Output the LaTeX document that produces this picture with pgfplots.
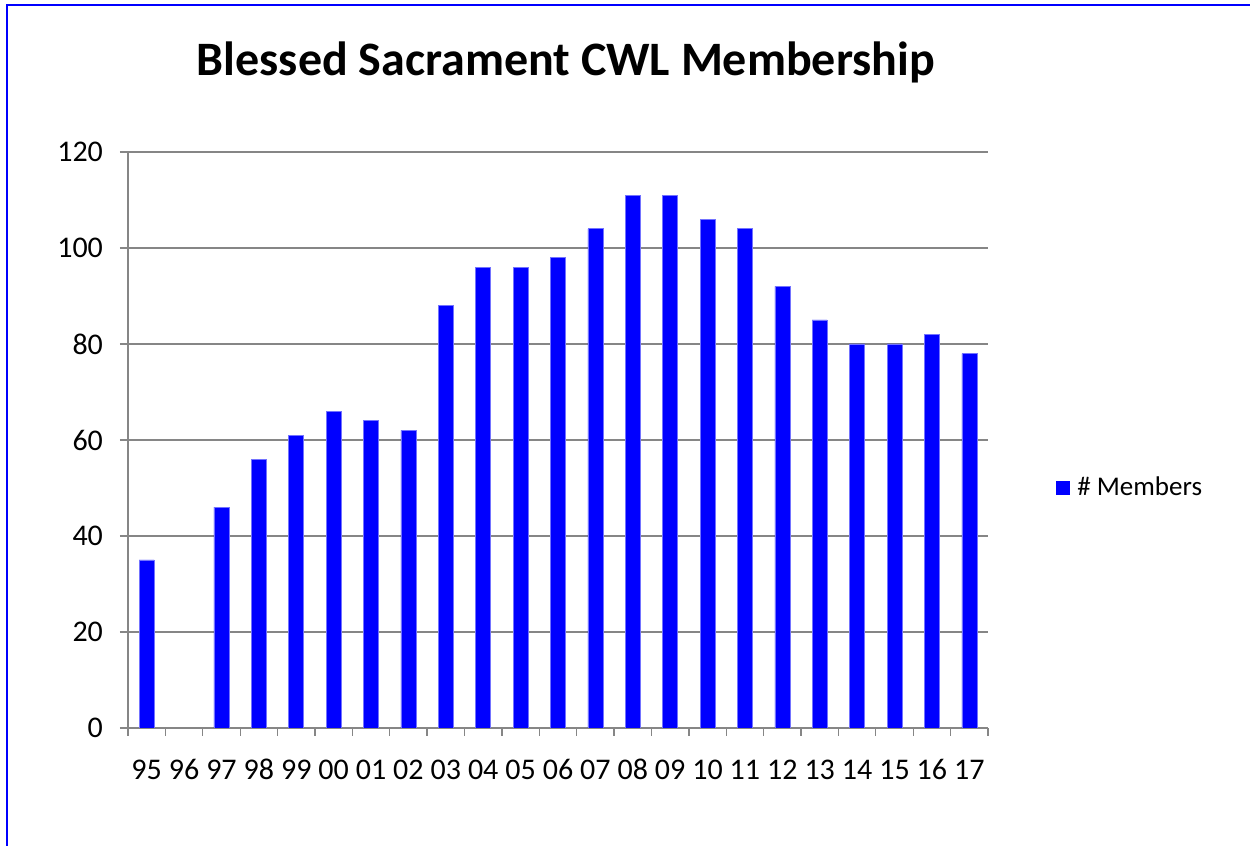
\documentclass[border=0pt]{standalone}
\usepackage{pgfplots}
\pgfplotsset{compat=1.18}
\usepackage{fontspec}
\setmainfont{Carlito}
\definecolor{gridgray}{RGB}{134,134,134}
\definecolor{barblue}{RGB}{0,0,255}
\begin{document}
\begin{tikzpicture}
\path[use as bounding box] (0,0) rectangle (625pt,423pt);
\draw[barblue, line width=1pt] (3.25pt,0pt) -- (3.25pt,420.25pt) -- (625pt,420.25pt);
\node[font=\bfseries\fontsize{24}{28}\selectfont] at (283pt,392pt) {Blessed Sacrament CWL Membership};
\begin{axis}[
 at={(64pt,59pt)}, anchor=south west,
 scale only axis, width=430pt, height=288pt,
 xmin=-0.5, xmax=22.5, ymin=0, ymax=120,
 ytick={0,20,...,120},
 xtick={0,...,22},
 xticklabels={95,96,97,98,99,00,01,02,03,04,05,06,07,08,09,10,11,12,13,14,15,16,17},
 minor xtick={-0.5,0.5,...,22.5},
 axis x line*=bottom, axis y line*=left,
 axis line style={-, gridgray, line width=0.65pt},
 ymajorgrids, grid style={gridgray, line width=0.65pt},
 tick align=outside,
 major tick length=4pt, minor tick length=4pt,
 major x tick style={draw=none},
 minor x tick style={gridgray, line width=0.65pt},
 major y tick style={gridgray, line width=0.65pt},
 ticklabel style={font=\fontsize{15}{17}\selectfont},
 xticklabel style={anchor=base, yshift=-22pt},
 yticklabel style={xshift=-5pt},
 /pgf/number format/assume math mode=true,
 legend style={at={(1.079,0.4167)}, anchor=west, draw=none, fill=none, font=\fontsize{13.5}{16}\selectfont, inner sep=0pt},
 legend image code/.code={\fill[barblue, draw=none] (0.5pt,-3.5pt) rectangle (7.5pt,3.5pt); \path[draw=none, fill=none] (7.5pt,-0.1pt) rectangle (9pt,0.1pt);},
]
\addplot[ybar, bar width=7.5pt, fill=barblue, draw=blue!55!white, line width=0.3pt] coordinates {
(0,35) (2,46) (3,56) (4,61) (5,66) (6,64) (7,62) (8,88) (9,96) (10,96) (11,98)
(12,104) (13,111) (14,111) (15,106) (16,104) (17,92) (18,85) (19,80) (20,80) (21,82) (22,78)};
\addlegendentry{\# Members}
\end{axis}
\end{tikzpicture}
\end{document}
